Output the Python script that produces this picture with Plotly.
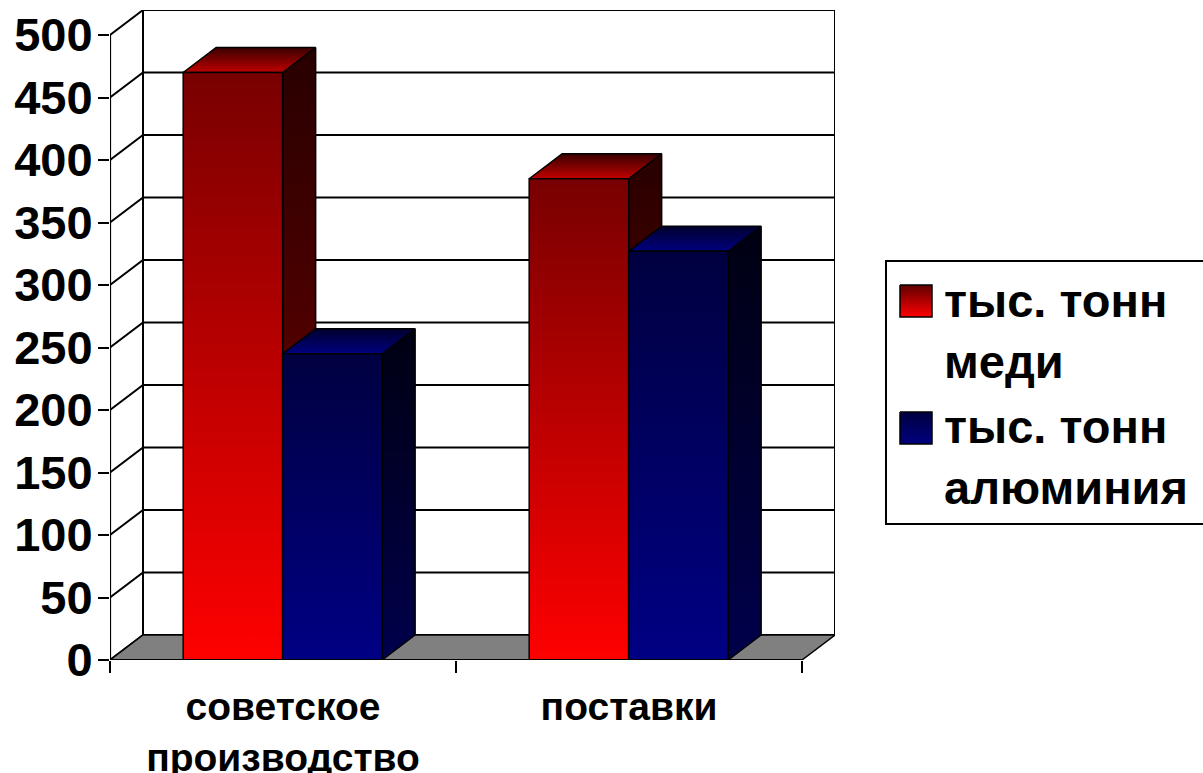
import plotly.graph_objects as go

categories = ["советское<br>производство", "поставки"]
series_names = ["тыс. тонн<br>меди", "тыс. тонн<br>алюминия\u00a0\u00a0"]
copper = [470, 385]
aluminium = [245, 327]
y_ticks = list(range(0, 501, 50))

W, H = 1203, 773
PX_CAT = 346.0
DX = 33 / PX_CAT      # depth of the 3D box, category units
DY = 20.0             # depth of the 3D box, value units
BAR = 0.2875
GAP = 0.2115
XMAX = len(categories) + DX
YMAX = y_ticks[-1] + DY
FONT = "Liberation Sans"

FRONT = [[[0, "#ff0000"], [1, "#780000"]], [[0, "#000084"], [1, "#000040"]]]
SIDE = [[[0, "#7a0000"], [1, "#280000"]], [[0, "#00004c"], [1, "#000012"]]]
TOP = [[[0, "#c00000"], [1, "#3a0000"]], [[0, "#000080"], [1, "#00002e"]]]

fig = go.Figure()


def line(xs, ys, width=2):
    fig.add_trace(go.Scatter(x=xs, y=ys, mode="lines", showlegend=False, hoverinfo="skip",
                             line=dict(color="black", width=width), cliponaxis=False))


def poly(xs, ys, scale=None, color=None, group=None):
    kw = dict(fillgradient=dict(type="vertical", colorscale=scale)) if scale else dict(fillcolor=color)
    fig.add_trace(go.Scatter(x=xs + xs[:1], y=ys + ys[:1], mode="lines", fill="toself", showlegend=False,
                             hoverinfo="skip", legendgroup=group, cliponaxis=False,
                             line=dict(color="black", width=1.5), **kw))


# walls and gridlines
line([DX, DX, XMAX, XMAX, DX], [DY, YMAX, YMAX, DY, DY])
for v in y_ticks[1:]:
    line([0, DX, XMAX], [v, v + DY, v + DY])
line([0, DX], [0, DY])
poly([0, DX, XMAX, XMAX - DX], [0, DY, DY, 0], color="#808080")

# bars
for i, values in enumerate([copper, aluminium]):
    for c, v in enumerate(values):
        x0 = c + GAP + i * BAR
        x1 = x0 + BAR
        poly([x1, x1 + DX, x1 + DX, x1], [0, DY, v + DY, v], scale=SIDE[i], group=series_names[i])
        poly([x0, x1, x1 + DX, x0 + DX], [v, v, v + DY, v + DY], scale=TOP[i], group=series_names[i])
        poly([x0, x1, x1, x0], [0, 0, v, v], scale=FRONT[i], group=series_names[i])

# axis lines
line([0, 0], [0, y_ticks[-1]], 2.2)
line([0, len(categories)], [0, 0], 2.2)

# legend entries (their big swatches are drawn on the overlay axes below)
for i, name in enumerate(series_names):
    fig.add_trace(go.Scatter(x=[None], y=[None], mode="markers", name=name, legendgroup=name,
                             marker=dict(symbol="square", size=1, color="rgba(0,0,0,0)")))

# legend swatches, on an overlay axis measured in window pixels
for i, (top, scale) in enumerate(zip([285, 412], [[[0, "#ff0000"], [1, "#600000"]], [[0, "#000080"], [1, "#000040"]]])):
    xs = [900, 932, 932, 900, 900]
    ys = [top, top, top + 32, top + 32, top]
    fig.add_trace(go.Scatter(x=xs, y=ys, xaxis="x2", yaxis="y2", mode="lines", fill="toself", showlegend=False,
                             hoverinfo="skip", line=dict(color="black", width=1.5),
                             fillgradient=dict(type="vertical", colorscale=scale)))

fig.update_layout(
    width=W, height=H, autosize=False,
    margin=dict(l=0, r=0, t=0, b=0, autoexpand=False),
    paper_bgcolor="white", plot_bgcolor="rgba(0,0,0,0)",
    font=dict(family=FONT, color="black"),
    hovermode=False,
    xaxis=dict(domain=[110 / W, 835 / W], range=[0, XMAX], showgrid=False, zeroline=False, showline=False,
               tickmode="array", tickvals=[c + 0.5 for c in range(len(categories))], ticktext=categories,
               ticks="", ticklabelstandoff=20, tickfont=dict(size=39, family=FONT, weight="bold"),
               tickangle=0,
               minor=dict(tickmode="array", tickvals=list(range(len(categories) + 1)), ticks="outside",
                          ticklen=12, tickwidth=2, tickcolor="black")),
    yaxis=dict(domain=[113 / H, 763 / H], range=[0, YMAX], showgrid=False, zeroline=False, showline=False,
               tickmode="array", tickvals=y_ticks, ticks="outside", ticklen=11, tickwidth=2, tickcolor="black",
               ticklabelstandoff=-4, tickfont=dict(size=47, family=FONT, weight="bold")),
    xaxis2=dict(domain=[0, 1], range=[0, W], visible=False, anchor="y2", fixedrange=True),
    yaxis2=dict(domain=[0, 1], range=[H, 0], visible=False, anchor="x2", fixedrange=True),
    legend=dict(x=885 / W, y=1 - 260 / H, xanchor="left", yanchor="top", bgcolor="rgba(0,0,0,0)",
                bordercolor="black", borderwidth=2, itemwidth=47, tracegroupgap=0,
                font=dict(size=47, family=FONT, weight="bold")),
)

fig.write_html("out.html", config=dict(displayModeBar=False), post_script="document.body.style.margin='0';")
